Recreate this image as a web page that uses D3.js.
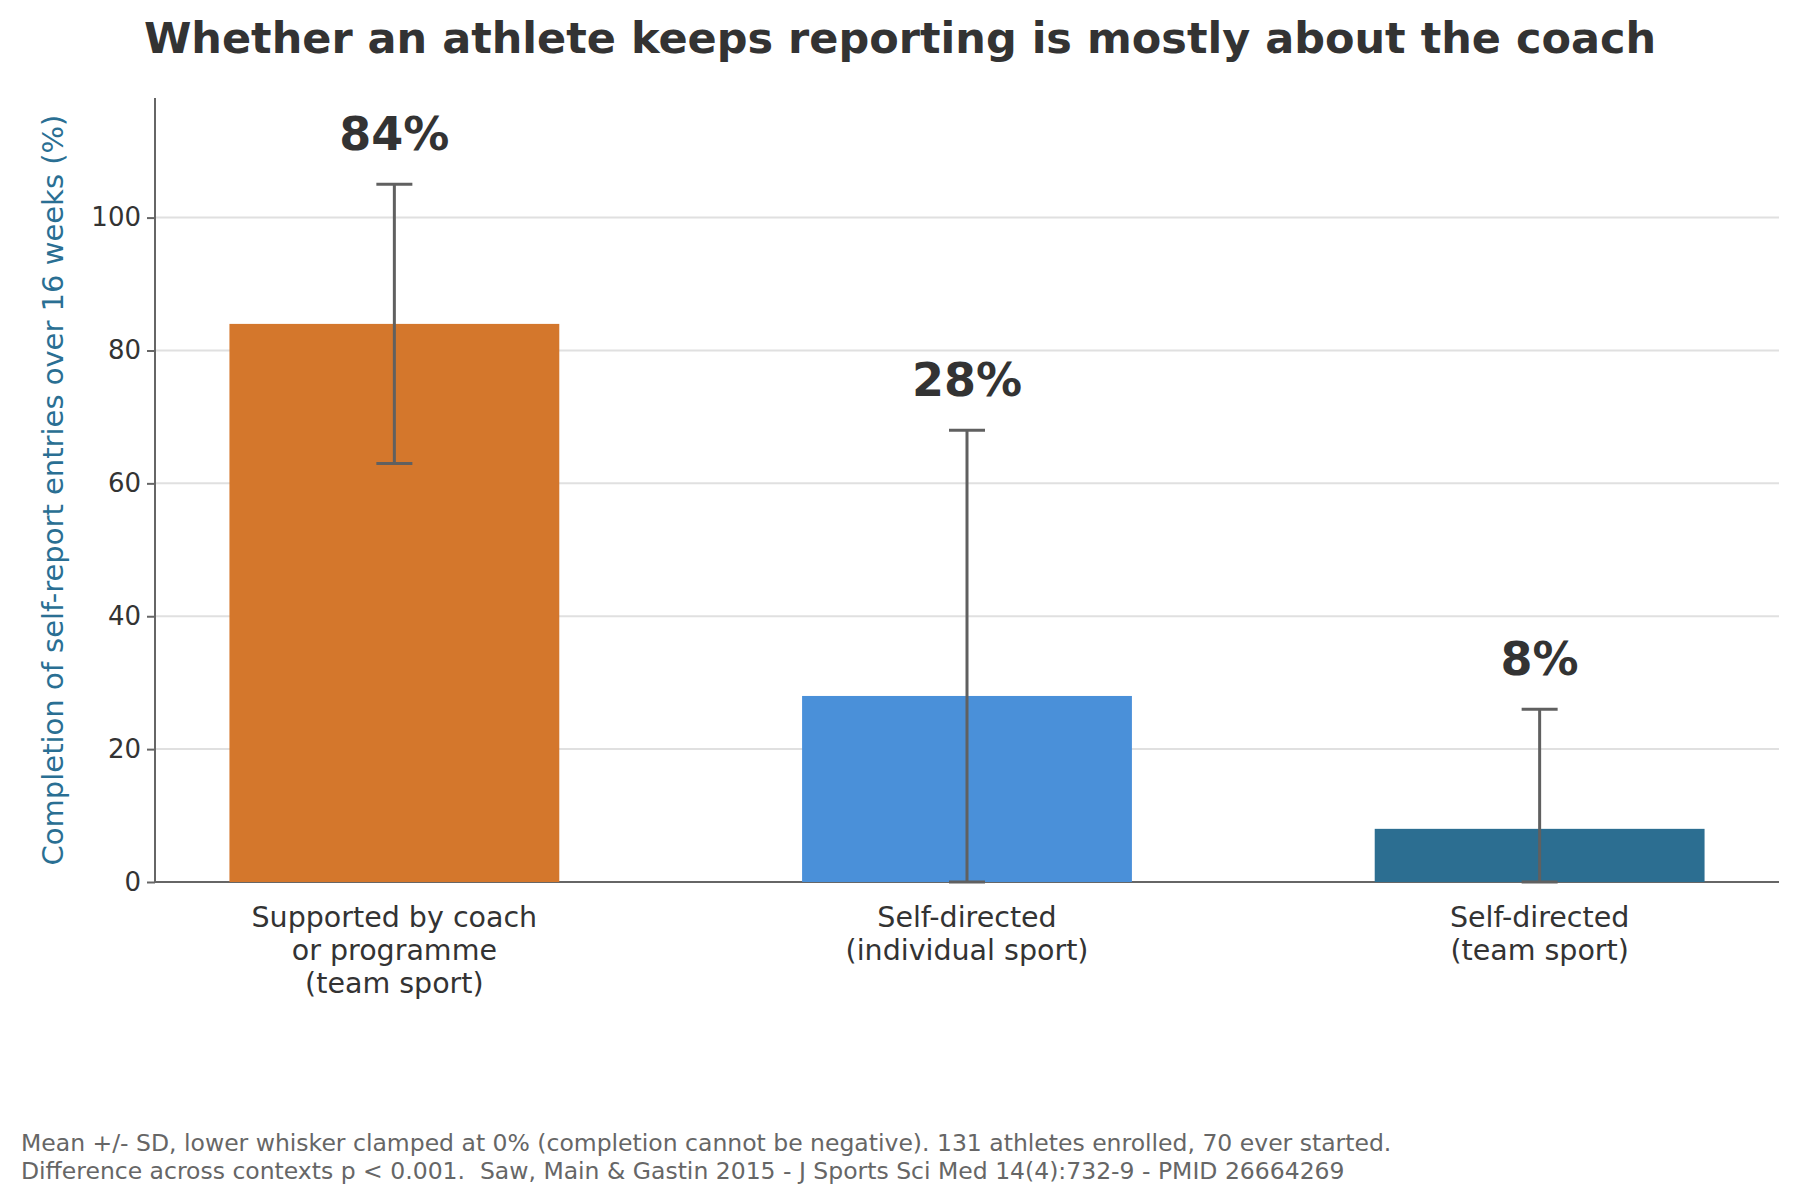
<!DOCTYPE html><html><head><meta charset="utf-8"><script src="https://cdn.jsdelivr.net/npm/d3@7"></script>
<style>body{margin:0;background:#fff}text{font-family:"DejaVu Sans",sans-serif}</style></head><body><svg id="c" width="1800" height="1204"></svg>
<script>
const categories=[["Supported by coach","or programme","(team sport)"],["Self-directed","(individual sport)"],["Self-directed","(team sport)"]];
const means=[84,28,8];
const sds=[21,40,18];
const colors=["#d4772c","#4a90d9","#2c6e91"];
const yTicks=[0,20,40,60,80,100];
const svg=d3.select("#c");
const L=155,R=1779,T=98,B=882;
const x=d3.scaleBand().domain(d3.range(3)).range([L,R]).paddingInner(0.424).paddingOuter(0.13);
const y=d3.scaleLinear().domain([0,118]).range([B,T]);
svg.append("g").selectAll("line").data(yTicks.slice(1)).join("line").attr("x1",L).attr("x2",R).attr("y1",d=>y(d)).attr("y2",d=>y(d)).attr("stroke","#e0e0e0").attr("stroke-width",2);
const ya=svg.append("g").attr("transform",`translate(${L},0)`).call(d3.axisLeft(y).tickValues(yTicks).tickSize(8).tickPadding(6));
ya.selectAll("text").attr("font-size",26).attr("fill","#333").style("font-family","DejaVu Sans");
ya.selectAll("line,path").attr("stroke","#666").attr("stroke-width",2);
ya.select("path").attr("d",`M0,${T}V${B}`);
svg.append("line").attr("x1",L).attr("x2",R).attr("y1",B).attr("y2",B).attr("stroke","#666").attr("stroke-width",2);
svg.selectAll("rect.b").data(means).join("rect").attr("x",(d,i)=>x(i)).attr("width",x.bandwidth()).attr("y",d=>y(d)).attr("height",d=>B-y(d)).attr("fill",(d,i)=>colors[i]);
const g=svg.append("g").attr("stroke","#606060").attr("stroke-width",3);
means.forEach((m,i)=>{const cx=x(i)+x.bandwidth()/2,hi=y(m+sds[i]),lo=y(Math.max(0,m-sds[i]));
g.append("line").attr("x1",cx).attr("x2",cx).attr("y1",hi).attr("y2",lo);
[hi,lo].forEach(v=>g.append("line").attr("x1",cx-18).attr("x2",cx+18).attr("y1",v).attr("y2",v));
svg.append("text").attr("x",cx).attr("y",hi-34).attr("text-anchor","middle").attr("font-size",46).attr("font-weight","bold").attr("fill","#333").text(m+"%");
const t=svg.append("text").attr("x",cx).attr("y",927).attr("text-anchor","middle").attr("font-size",28.5).attr("fill","#333");
categories[i].forEach((s,k)=>t.append("tspan").attr("x",cx).attr("dy",k?33:0).text(s));});
svg.append("text").attr("x",900).attr("y",53).attr("text-anchor","middle").attr("font-size",43).attr("font-weight","bold").attr("fill","#333").text("Whether an athlete keeps reporting is mostly about the coach");
svg.append("text").attr("transform","translate(63,490) rotate(-90)").attr("text-anchor","middle").attr("font-size",29).attr("fill","#2a6f93").text("Completion of self-report entries over 16 weeks (%)");
const f=svg.append("text").attr("x",21).attr("y",1151).attr("font-size",23.5).attr("fill","#666").style("white-space","pre");
f.append("tspan").attr("x",21).text("Mean +/- SD, lower whisker clamped at 0% (completion cannot be negative). 131 athletes enrolled, 70 ever started.");
f.append("tspan").attr("x",21).attr("dy",28).text("Difference across contexts p < 0.001.  Saw, Main & Gastin 2015 - J Sports Sci Med 14(4):732-9 - PMID 26664269");
</script></body></html>
